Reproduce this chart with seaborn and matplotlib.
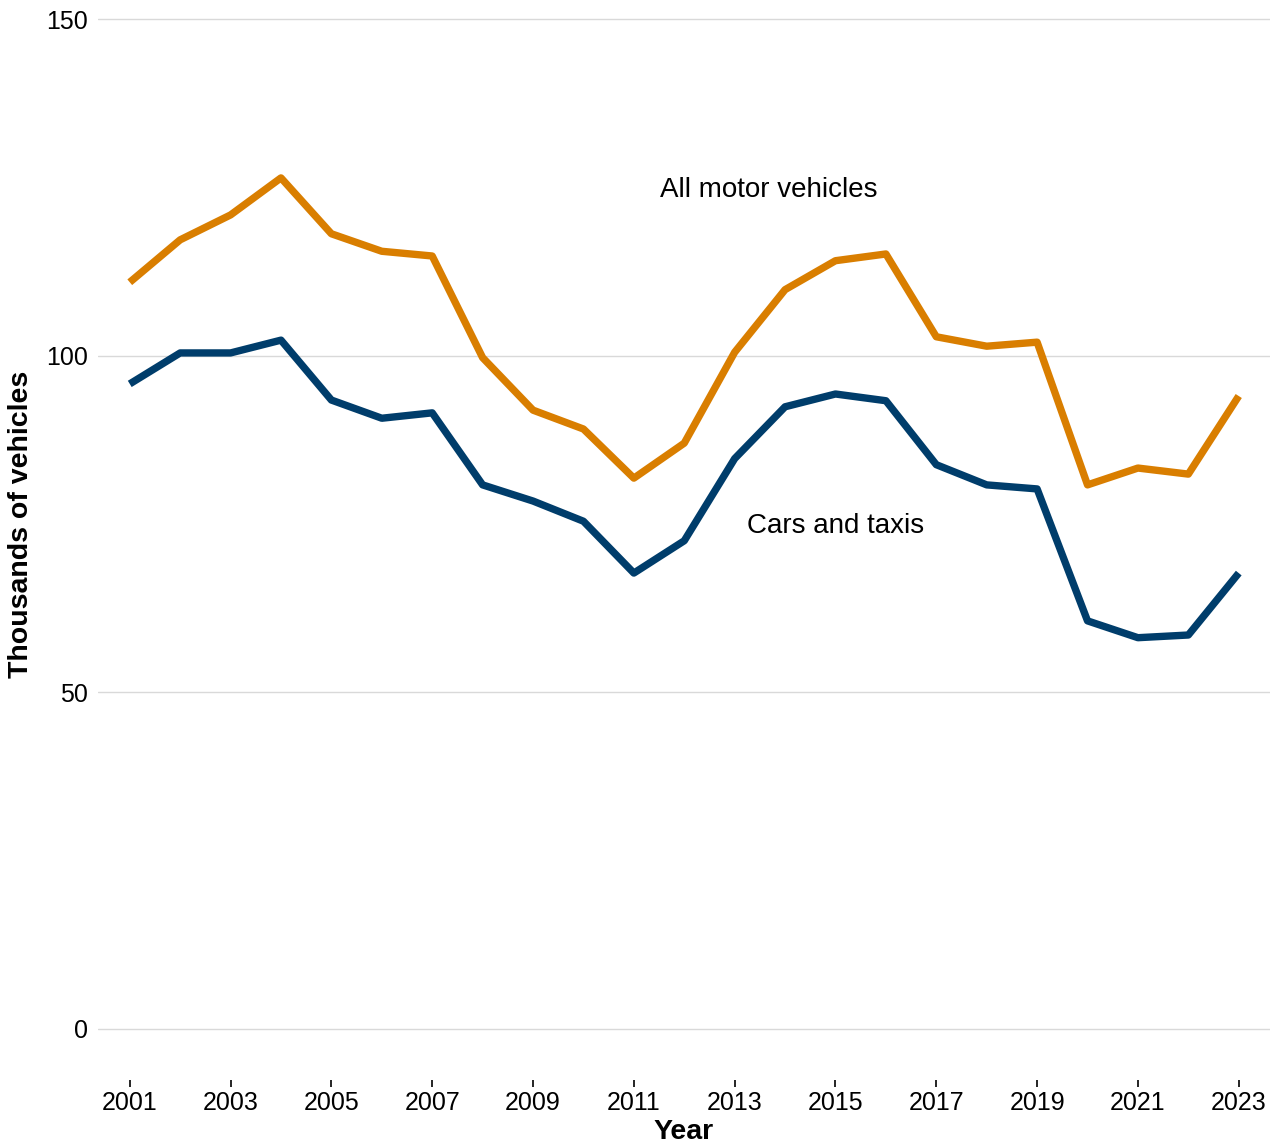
import numpy as np
import pandas as pd
import matplotlib
matplotlib.use("Agg")
import matplotlib.pyplot as plt
import seaborn as sns

years = list(range(2001, 2024))
all_motor = [110.9, 117.2, 120.9, 126.4, 118.1, 115.5, 114.8, 99.7, 91.9, 89.1, 81.8, 87.0,
             100.5, 109.8, 114.1, 115.1, 102.8, 101.4, 102.0, 80.8, 83.3, 82.4, 94.0]
cars_taxis = [95.8, 100.4, 100.4, 102.3, 93.4, 90.7, 91.5, 80.8, 78.4, 75.4, 67.7, 72.5,
              84.7, 92.4, 94.3, 93.3, 83.8, 80.8, 80.2, 60.6, 58.1, 58.5, 67.7]
series_names = ["All motor vehicles", "Cars and taxis"]
colors = ["#D97E00", "#003D6B"]
xticks = list(range(2001, 2024, 2))
yticks = [0, 50, 100, 150]

df = pd.DataFrame({
    "Year": years * 2,
    "Value": all_motor + cars_taxis,
    "Series": [series_names[0]] * len(years) + [series_names[1]] * len(years),
})

sns.set_theme(style="white")
plt.rcParams["font.family"] = ["Liberation Sans", "DejaVu Sans"]
plt.rcParams["text.color"] = "black"
plt.rcParams["xtick.color"] = "black"
plt.rcParams["ytick.color"] = "black"
plt.rcParams["axes.labelcolor"] = "black"

fig = plt.figure(figsize=(12.79, 11.44), dpi=100)
ax = fig.add_axes([98 / 1279, 1 - 1080 / 1144, (1270 - 98) / 1279, (1080 - 17) / 1144])

sns.lineplot(data=df, x="Year", y="Value", hue="Series", palette=colors,
             linewidth=5.3, ax=ax, legend=False, solid_capstyle="butt")

ax.set_xlim(2000.37, 2023.62)
ax.set_ylim(-7.6, 150.3)
ax.set_yticks(yticks)
ax.set_xticks(xticks)
ax.set_xticklabels([str(y) for y in xticks], fontsize=18)
ax.set_yticklabels([str(y) for y in yticks], fontsize=18)
ax.yaxis.grid(True, color="#D9D9D9", linewidth=1)
ax.xaxis.grid(False)
for s in ax.spines.values():
    s.set_visible(False)
ax.tick_params(axis="x", which="both", direction="out", length=5, width=1.2,
               color="black", pad=3, bottom=True)
ax.tick_params(axis="y", length=0, pad=7)

ax.set_xlabel("Year", fontsize=20.5, fontweight="bold", labelpad=3)
ax.set_ylabel("Thousands of vehicles", fontsize=20.5, fontweight="bold")
ax.yaxis.set_label_coords(-0.0546, 0.523)

ax.text(2013.68, 124.6, series_names[0], fontsize=20, ha="center", va="center", color="black")
ax.text(2015.0, 74.7, series_names[1], fontsize=20, ha="center", va="center", color="black")

fig.savefig("out.png", dpi=100)
